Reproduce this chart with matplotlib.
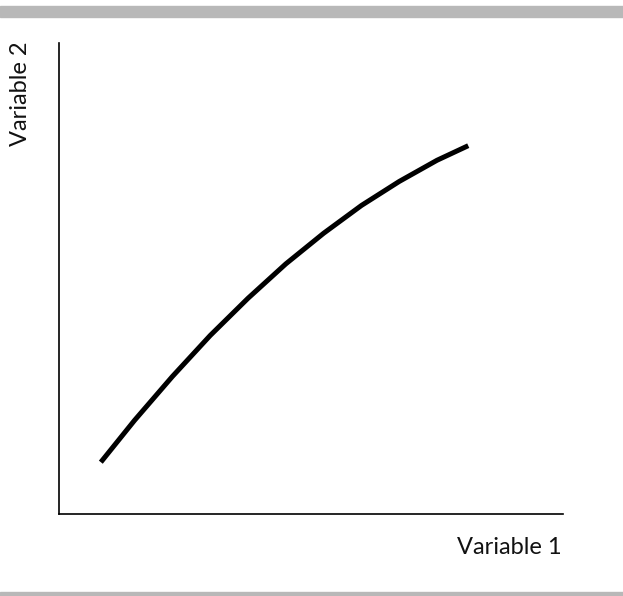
import matplotlib.pyplot as plt

# Puntos (escala arbitraria 0-10)
var1 = [0.83, 1.50, 2.25, 3.00, 3.75, 4.50, 5.25, 6.00, 6.75, 7.50, 8.12]
var2 = [1.10, 1.99, 2.92, 3.79, 4.58, 5.31, 5.96, 6.55, 7.06, 7.51, 7.82]

etiqueta_x = "Variable 1"
etiqueta_y = "Variable 2"

fig = plt.figure(figsize=(6.23, 5.96), dpi=100)

# Barras grises arriba y abajo
fig.patches.append(plt.Rectangle((0, 1 - 16.5 / 596), 1, 11 / 596, transform=fig.transFigure,
                                 color="#b8b8b8", zorder=0))
fig.patches.append(plt.Rectangle((0, 0), 1, 4.5 / 596, transform=fig.transFigure,
                                 color="#b8b8b8", zorder=0))

ax = fig.add_axes([59 / 623, 82 / 596, 504 / 623, 471 / 596])
ax.plot(var1, var2, color="black", linewidth=3.6, solid_capstyle="butt",
        solid_joinstyle="round")
ax.set_xlim(0, 10)
ax.set_ylim(0, 10)
ax.set_xticks([])
ax.set_yticks([])
ax.spines["top"].set_visible(False)
ax.spines["right"].set_visible(False)
ax.spines["left"].set_linewidth(1.2)
ax.spines["bottom"].set_linewidth(1.2)

fig.text(562 / 623, 1 - 547 / 596, etiqueta_x, ha="right", va="center", fontsize=17,
         family="Lato", color="#111111")
fig.text(21 / 623, 1 - 42 / 596, etiqueta_y, ha="center", va="top", rotation=90, fontsize=17,
         family="Lato", color="#111111")

fig.savefig("out.png", dpi=100)
